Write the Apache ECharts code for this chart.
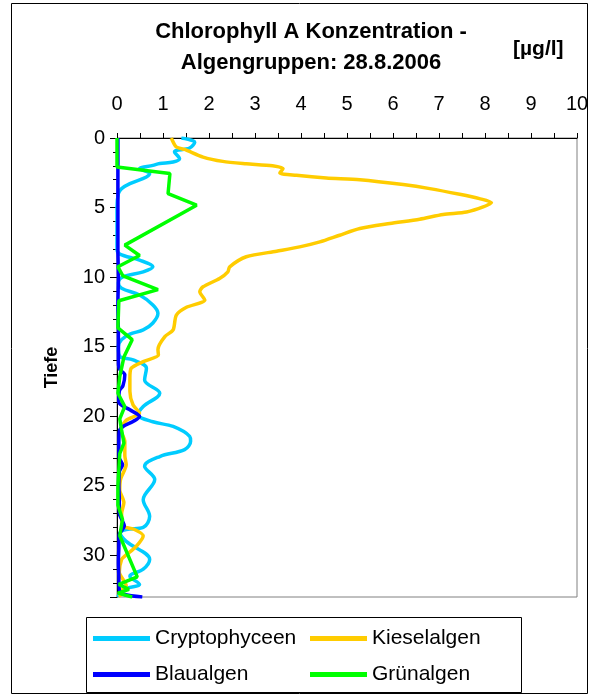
<!DOCTYPE html>
<html>
<head>
<meta charset="utf-8">
<script src="https://cdn.jsdelivr.net/npm/echarts@6/dist/echarts.min.js"></script>
<style>
html,body{margin:0;padding:0;background:#fff;}
#chart{width:594px;height:699px;}
</style>
</head>
<body>
<div id="chart"></div>
<script>
const seriesNames = ['Cryptophyceen', 'Kieselalgen', 'Blaualgen', 'Grünalgen'];
const xTickLabels = [0,1,2,3,4,5,6,7,8,9,10];
const depthTickLabels = [0,5,10,15,20,25,30];

const cryptoDepth = [0,0.3,0.72,1.0,1.49,1.73,1.84,1.97,2.2,2.56,2.8,3.28,3.64,4.0,5,6,7,8.0,8.35,8.78,9.26,9.62,9.98,10.4,10.8,11.29,12.0,12.6,13.3,13.8,14.1,14.5,15.0,15.7,15.95,16.55,17.4,18.35,19.3,19.9,20.4,20.74,21.45,21.8,22.4,22.9,23.6,24.56,26.0,27.2,28.0,28.15,28.4,29.0,30.3,31.0,31.5,32.1,32.4,32.8,33];
const cryptoValues = [1.4,1.69,1.58,1.25,1.36,1.22,0.93,0.78,0.49,0.71,0.64,0.28,0.1,0.03,0,0,0,0.0,0.06,0.49,0.78,0.57,0.13,0.03,0.1,0.49,0.78,0.89,0.78,0.57,0.28,0.1,0.03,0.06,0.35,0.64,0.6,0.93,0.57,0.46,0.78,1.22,1.58,1.6,1.47,0.93,0.6,0.82,0.57,0.71,0.57,0.2,0.07,0.2,0.71,0.57,0.28,0.49,0.2,0.05,0.02];

const kieselDepth = [0,0.65,0.82,1.37,1.68,1.85,2.0,2.2,2.52,2.68,2.87,3.0,3.35,3.64,4.05,4.36,4.64,4.96,5.32,5.5,5.84,6.15,6.51,6.99,7.47,7.83,8.14,8.54,9.26,9.62,10.1,10.7,11.05,11.65,12.17,12.73,13.8,14.28,15.2,15.6,16.08,16.55,17.27,18.2,19.2,19.78,20.3,21.0,21.8,22.8,23.5,24.5,25.3,26.2,27.0,27.9,28.15,28.6,29.35,30.06,30.3,31.2,32.2,32.7,33];
const kieselValues = [1.18,1.29,1.47,1.87,2.3,2.81,3.38,3.61,3.54,3.9,4.55,5.28,6.22,6.8,7.45,7.88,8.14,7.96,7.6,7.09,6.58,5.93,5.28,4.84,4.41,3.97,3.47,2.81,2.45,2.41,2.23,1.87,1.8,1.91,1.51,1.29,1.22,1.04,0.89,0.9,0.57,0.31,0.28,0.28,0.35,0.49,0.2,0.08,0.17,0.17,0.2,0.08,0.06,0.15,0.1,0.13,0.38,0.57,0.42,0.17,0.1,0.05,0.2,0.05,0.08];

const blauDepth = [0,2,4,6,8,10,12,14,16,16.6,17.03,17.8,18.2,19.0,19.54,20.02,20.38,20.74,21.1,22,23,23.5,24,25,26,27,27.4,27.9,28.5,29.5,30.5,31.5,32.5,32.8,33];
const blauValues = [0.02,0.02,0.02,0.02,0.02,0.03,0.02,0.03,0.03,0.05,0.17,0.13,0.05,0.04,0.28,0.49,0.35,0.13,0.05,0.04,0.05,0.12,0.05,0.04,0.05,0.05,0.1,0.16,0.05,0.04,0.03,0.04,0.05,0.15,0.55];

const gruenDepth = [0,2.08,2.56,4.0,4.83,7.7,8.45,9.26,9.92,10.9,11.7,13.65,14.5,15.75,17.15,18.35,19.3,20.2,21.0,21.93,22.7,25.0,26.4,27.43,28.6,31.55,32.1,32.45,32.72,33];
const gruenValues = [0,0,1.15,1.11,1.73,0.17,0.49,0.02,0.13,0.89,0.04,0.02,0.33,0.15,0.06,0.02,0.17,0.06,0.1,0.15,0.06,0.02,0.02,0.12,0.06,0.44,0.04,0.26,0.02,0.33];

const colors = ['#00CCFF', '#FFCC00', '#0000FF', '#00FF00'];
const FONT = '"Liberation Sans", Arial, sans-serif';

function pairs(vals, depths){ return vals.map((v,i)=>[v, depths[i]]); }
const allData = [pairs(cryptoValues, cryptoDepth), pairs(kieselValues, kieselDepth), pairs(blauValues, blauDepth), pairs(gruenValues, gruenDepth)];
const smoothing = [0.35, 0.25, 0.3, false];

const chart = echarts.init(document.getElementById('chart'), null, {renderer:'canvas'});
const legendStyle = {fontFamily: FONT, fontSize: 21, color:'#000'};
chart.setOption({
  animation: false,
  backgroundColor: '#fff',
  title: {
    text: 'Chlorophyll A Konzentration -\nAlgengruppen: 28.8.2006',
    left: 306, top: 11, textAlign: 'center',
    textStyle: {fontFamily: FONT, fontSize: 22, fontWeight: 'bold', color:'#000', lineHeight: 31}
  },
  graphic: [
    {type:'rect', shape:{x:11.5, y:3.5, width:576, height:690}, style:{fill:'none', stroke:'#000', lineWidth:1}, z:-1},
    {type:'rect', shape:{x:86.5, y:617.5, width:435, height:75}, style:{fill:'#fff', stroke:'#000', lineWidth:1}, z:0},
    {type:'text', left: 513, top: 39, style:{text:'[µg/l]', font:'bold 21px "Liberation Sans", Arial, sans-serif', fill:'#000'}}
  ],
  legend: [
    {data:[seriesNames[0], seriesNames[2]], orient:'vertical', left: 88, top: 623, itemWidth: 57, itemHeight: 5, itemGap: 15, icon:'rect', textStyle: legendStyle, z:5},
    {data:[seriesNames[1], seriesNames[3]], orient:'vertical', left: 305, top: 623, itemWidth: 57, itemHeight: 5, itemGap: 15, icon:'rect', textStyle: legendStyle, z:5}
  ],
  grid: {left:117, top:138, width:460, height:459, show:true, borderColor:'#808080', borderWidth:1, backgroundColor:'#fff'},
  xAxis: {
    type:'value', position:'top', min:0, max:10, interval:1,
    axisLine:{show:true, lineStyle:{color:'#000', width:1}},
    axisTick:{show:true, length:5, lineStyle:{color:'#000'}},
    minorTick:{show:true, splitNumber:2, length:5, lineStyle:{color:'#000'}},
    splitLine:{show:false},
    axisLabel:{margin:24, fontFamily:FONT, fontSize:20, color:'#000',
      formatter: v => xTickLabels.indexOf(v) >= 0 ? String(v) : ''}
  },
  yAxis: [
    {
      type:'value', inverse:true, min:0, max:33, interval:5,
      name:'Tiefe', nameLocation:'middle', nameGap:56, nameRotate:90,
      nameTextStyle:{fontFamily:FONT, fontSize:18, fontWeight:'bold', color:'#000'},
      axisLine:{show:true, lineStyle:{color:'#000', width:1}},
      axisTick:{show:true, length:7, lineStyle:{color:'#000'}},
      splitLine:{show:false},
      axisLabel:{margin:12, fontFamily:FONT, fontSize:20, color:'#000',
        formatter: v => depthTickLabels.indexOf(v) >= 0 ? String(v) : ''}
    },
    {
      type:'value', inverse:true, min:0, max:33, interval:1, position:'left',
      axisLine:{show:false}, axisTick:{show:true, length:4, lineStyle:{color:'#000'}},
      axisLabel:{show:false}, splitLine:{show:false}
    }
  ],
  series: allData.map((d,i)=>({
    name: seriesNames[i], type:'line', data:d, yAxisIndex:0,
    smooth: smoothing[i], showSymbol:false, symbol:'none',
    lineStyle:{color:colors[i], width:3.5}, itemStyle:{color:colors[i]}, z: 2+i
  }))
});
</script>
</body>
</html>
